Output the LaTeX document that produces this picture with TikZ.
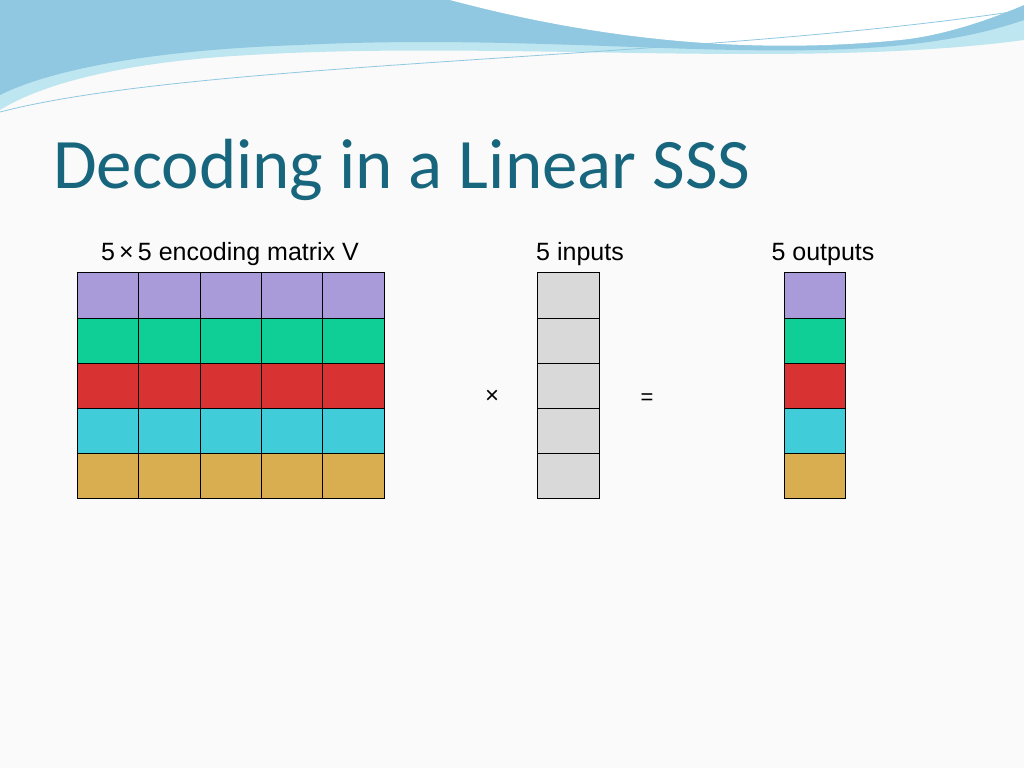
\documentclass[tikz,border=0pt]{standalone}
\usepackage{fontspec}
\setmainfont{Liberation Sans}
\newfontfamily\titlefont{Carlito}
\definecolor{cpur}{HTML}{A99AD9}
\definecolor{cgrn}{HTML}{10CF96}
\definecolor{cred}{HTML}{D93232}
\definecolor{ccya}{HTML}{41CCD9}
\definecolor{cgld}{HTML}{D9AE50}
\definecolor{cgry}{HTML}{D9D9D9}
\definecolor{ctitle}{HTML}{17667D}
\definecolor{wave1}{HTML}{8FC8E0}
\definecolor{wave2}{HTML}{BDE6F0}
\begin{document}
\begin{tikzpicture}[x=1pt,y=-1pt,
  cell/.style={draw=black,line width=1pt},
  lbl/.style={font=\fontsize{25}{28}\selectfont,anchor=base}]
\useasboundingbox (0,0) rectangle (1024,768);
\fill[white!96!gray] (0,0) rectangle (1024,768);
% top waves
\fill[wave2] (0,0) -- (1024,0) -- (1024,40) .. controls (800,70) and (500,40) .. (250,55) .. controls (120,62) and (40,85) .. (0,110) -- cycle;
\fill[wave1] (0,0) -- (1024,0) -- (1024,20) .. controls (850,80) and (600,30) .. (300,45) .. controls (150,50) and (50,70) .. (0,95) -- cycle;
\fill[white] (450,0) .. controls (600,40) and (750,55) .. (900,40) .. controls (950,35) and (1000,15) .. (1024,5) -- (1024,0) -- cycle;
\draw[wave1,line width=0.8pt] (0,112) .. controls (200,60) and (700,60) .. (1024,10);
\node[font=\titlefont\fontsize{71}{80}\selectfont,text=ctitle,anchor=base west,inner sep=0pt] (title) at (53,188) {Decoding in a Linear SSS};
\node[lbl] (lv) at (230,260) {5\,×\,5 encoding matrix V};
\node[lbl] (li) at (580,260) {5 inputs};
\node[lbl] (lo) at (823,260) {5 outputs};
\def\ys{{272,318,363,408,453,498}}
\def\xs{{77,138,200,261,322,384}}
\foreach \c [count=\r from 0] in {cpur,cgrn,cred,ccya,cgld}{
  \foreach \k in {0,...,4}{
    \pgfmathsetmacro\xa{\xs[\k]}\pgfmathsetmacro\xb{\xs[\k+1]}
    \pgfmathsetmacro\ya{\ys[\r]}\pgfmathsetmacro\yb{\ys[\r+1]}
    \draw[cell,fill=\c] (\xa,\ya) rectangle (\xb,\yb);
  }
  \pgfmathsetmacro\ya{\ys[\r]}\pgfmathsetmacro\yb{\ys[\r+1]}
  \draw[cell,fill=cgry] (537,\ya) rectangle (599,\yb);
  \draw[cell,fill=\c] (784,\ya) rectangle (845,\yb);
}
\node[font=\fontsize{24}{26}\selectfont] (times) at (492,397) {×};
\node[font=\fontsize{22}{26}\selectfont] (eq) at (647,399) {=};
\end{tikzpicture}
\end{document}
